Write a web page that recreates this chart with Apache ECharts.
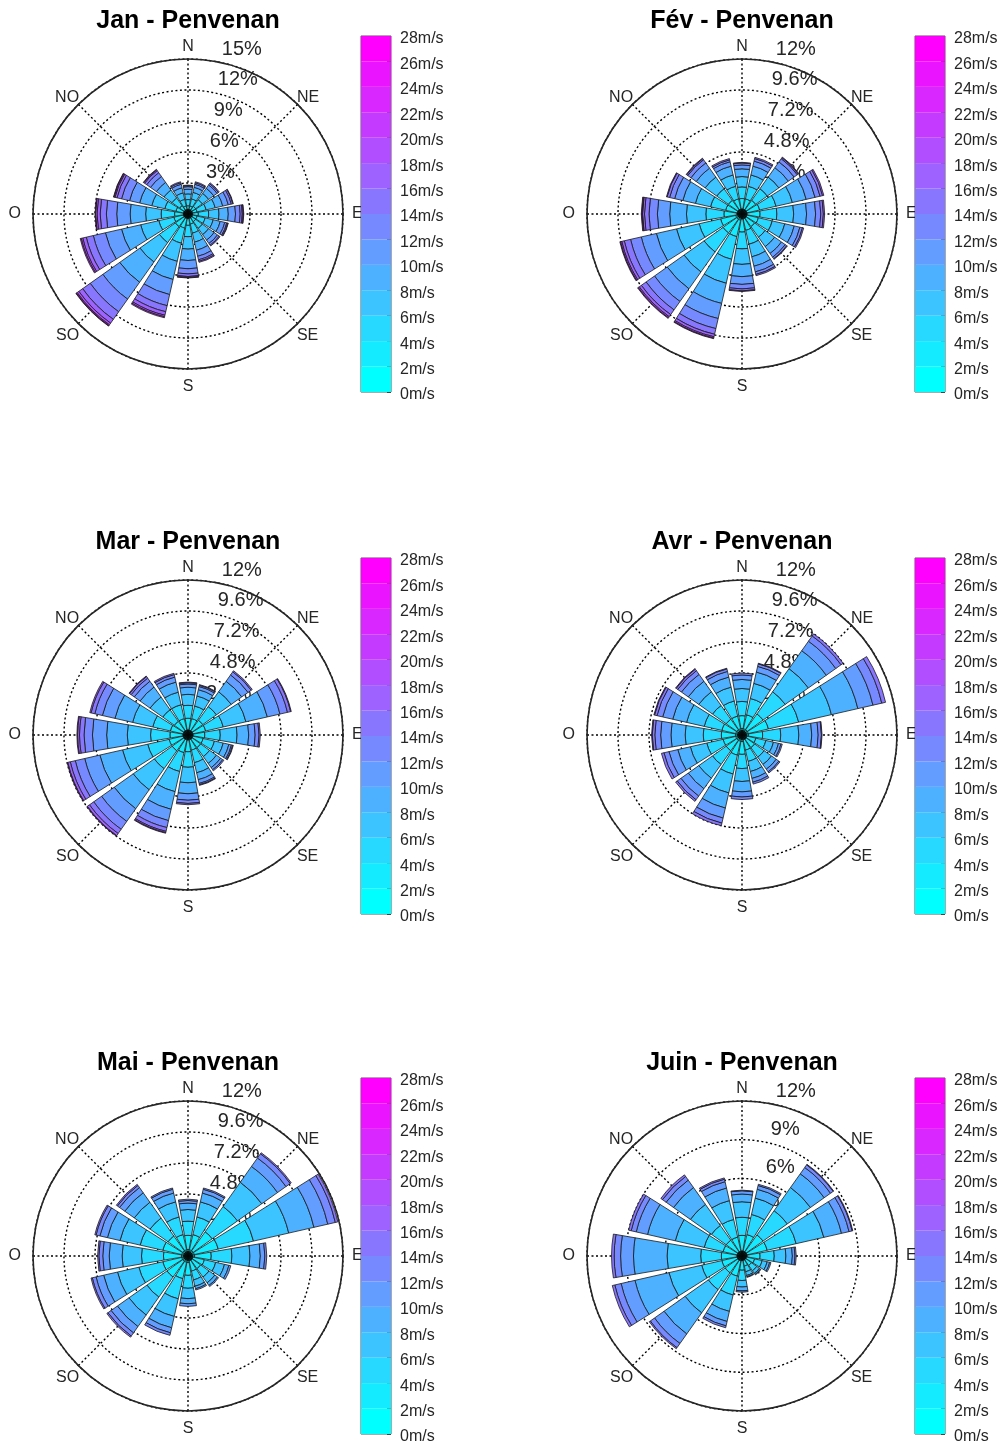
<!DOCTYPE html>
<html><head><meta charset="utf-8">
<script src="https://cdn.jsdelivr.net/npm/echarts@6/dist/echarts.min.js"></script>
<style>html,body{margin:0;padding:0;background:#fff}#c{width:1007px;height:1445px}</style>
</head><body><div id="c"></div>
<script>
// ---------- data ----------
const directions = ['N','NNE','NE','ENE','E','ESE','SE','SSE','S','SSO','SO','OSO','O','ONO','NO','NNO'];
const compassLabels = ['N','NE','E','SE','S','SO','O','NO'];
const speedEdges = [0,2,4,6,8,10,12,14,16,18,20,22,24,26,28];
const speedColors = ['#00ffff','#14ebff','#27d8ff','#3bc4ff','#4eb1ff','#629dff','#7689ff','#8976ff','#9d62ff','#b14eff','#c43bff','#d827ff','#eb14ff','#ff00ff'];
const titles = ['Jan - Penvenan','Fév - Penvenan','Mar - Penvenan','Avr - Penvenan','Mai - Penvenan','Juin - Penvenan'];
const ringMax = [15,12,12,12,12,12];
const ringStep = [3,2.4,2.4,2.4,2.4,3];

// frequency (%) per direction (N, NNE, ... NNO), split by speed bin of 2 m/s
const jan = [
 [0.3,0.5,0.6,0.55,0.45,0.25,0.1,0.05],
 [0.3,0.5,0.7,0.65,0.5,0.3,0.15,0.1],
 [0.3,0.6,0.8,0.75,0.6,0.4,0.15,0.1],
 [0.3,0.6,0.9,0.9,0.75,0.55,0.3,0.15,0.05],
 [0.3,0.7,1.0,1.0,0.9,0.7,0.45,0.2,0.1,0.05],
 [0.3,0.6,0.8,0.8,0.7,0.45,0.2,0.1,0.05],
 [0.3,0.6,0.8,0.75,0.65,0.4,0.2,0.1],
 [0.3,0.7,0.9,0.9,0.8,0.6,0.35,0.15,0.1],
 [0.3,0.8,1.1,1.2,1.1,0.8,0.5,0.25,0.1,0.05],
 [0.4,1.0,1.5,1.8,1.8,1.5,1.1,0.6,0.35,0.15,0.1],
 [0.4,1.1,1.9,2.3,2.4,2.0,1.5,0.9,0.45,0.2,0.1,0.05],
 [0.4,1.0,1.5,1.8,1.9,1.6,1.2,0.7,0.35,0.15,0.1],
 [0.4,0.9,1.3,1.5,1.5,1.3,1.0,0.6,0.3,0.15,0.05],
 [0.4,0.8,1.1,1.3,1.2,1.0,0.8,0.45,0.2,0.1,0.05],
 [0.3,0.7,0.9,0.95,0.9,0.7,0.45,0.25,0.1,0.05],
 [0.3,0.5,0.65,0.65,0.5,0.35,0.15,0.1]
];
const fev = [
 [0.4,0.8,0.9,0.8,0.6,0.3,0.15,0.05],
 [0.4,0.8,1.0,0.9,0.7,0.4,0.2,0.1],
 [0.4,0.9,1.1,1.1,0.9,0.55,0.3,0.1,0.05],
 [0.4,1.0,1.3,1.3,1.1,0.7,0.4,0.2,0.1],
 [0.4,1.0,1.3,1.3,1.0,0.7,0.4,0.2,0.1],
 [0.4,0.9,1.1,1.0,0.75,0.45,0.2,0.1],
 [0.4,0.8,1.0,0.9,0.65,0.35,0.15,0.05],
 [0.4,0.9,1.1,1.0,0.75,0.45,0.2,0.1],
 [0.4,1.0,1.3,1.2,0.95,0.6,0.35,0.15,0.05],
 [0.5,1.3,1.8,1.9,1.6,1.2,0.8,0.45,0.2,0.1,0.05],
 [0.5,1.3,1.8,1.9,1.6,1.2,0.8,0.45,0.2,0.1,0.05],
 [0.5,1.2,1.7,1.8,1.6,1.2,0.85,0.5,0.2,0.1,0.05],
 [0.4,1.0,1.4,1.5,1.3,0.95,0.65,0.35,0.15,0.05,0.05],
 [0.4,0.9,1.2,1.2,1.0,0.65,0.4,0.2,0.05],
 [0.4,0.9,1.1,1.1,0.85,0.5,0.3,0.1,0.05],
 [0.4,0.8,1.0,0.9,0.7,0.35,0.15,0.1]
];
const mar = [
 [0.4,0.9,1.0,0.85,0.55,0.25,0.1,0.05],
 [0.4,0.9,1.0,0.8,0.5,0.25,0.1,0.05],
 [0.4,1.0,1.3,1.4,1.0,0.6,0.3,0.1],
 [0.4,1.0,1.4,1.8,1.7,1.0,0.6,0.25,0.05],
 [0.4,0.9,1.2,1.3,0.9,0.5,0.3,0.1],
 [0.4,0.8,0.9,0.7,0.45,0.2,0.1,0.05],
 [0.4,0.8,0.85,0.65,0.4,0.2,0.1],
 [0.4,0.8,1.0,0.8,0.55,0.3,0.1,0.05],
 [0.4,0.9,1.2,1.2,0.85,0.5,0.25,0.1],
 [0.4,1.0,1.5,1.6,1.4,0.9,0.55,0.3,0.1,0.05],
 [0.4,1.1,1.7,2.0,1.8,1.2,0.75,0.4,0.2,0.05],
 [0.4,1.1,1.7,2.0,1.8,1.2,0.75,0.4,0.2,0.05],
 [0.4,1.0,1.5,1.8,1.6,1.1,0.65,0.35,0.15,0.05],
 [0.4,1.0,1.4,1.6,1.4,1.0,0.6,0.3,0.1],
 [0.4,0.9,1.1,1.2,0.95,0.55,0.3,0.15,0.05],
 [0.4,0.9,1.1,1.0,0.8,0.4,0.2,0.1]
];
const avr = [
 [0.5,1.0,1.1,1.0,0.7,0.35,0.15],
 [0.5,1.1,1.3,1.2,0.9,0.45,0.2,0.05],
 [0.5,1.5,2.1,2.2,1.7,0.9,0.5,0.2],
 [0.5,1.6,2.4,2.6,2.1,1.2,0.7,0.3],
 [0.5,1.1,1.4,1.4,1.0,0.5,0.25,0.05],
 [0.4,0.7,0.8,0.6,0.4,0.2,0.1],
 [0.4,0.8,0.9,0.7,0.45,0.25,0.1],
 [0.4,0.8,0.9,0.8,0.55,0.3,0.15],
 [0.5,1.0,1.1,1.0,0.8,0.4,0.2],
 [0.5,1.1,1.5,1.5,1.2,0.8,0.4,0.2],
 [0.5,1.0,1.3,1.3,1.0,0.7,0.35,0.15],
 [0.5,1.0,1.3,1.3,1.0,0.7,0.4,0.2],
 [0.5,1.1,1.4,1.4,1.1,0.8,0.45,0.2,0.05],
 [0.5,1.1,1.4,1.4,1.1,0.8,0.45,0.2,0.05],
 [0.5,1.0,1.3,1.3,1.0,0.65,0.35,0.15,0.05],
 [0.5,1.0,1.2,1.1,0.8,0.45,0.2,0.05]
];
const mai = [
 [0.5,1.1,1.1,0.9,0.5,0.2,0.1],
 [0.5,1.2,1.4,1.2,0.7,0.3,0.1],
 [0.5,1.8,2.4,2.3,1.5,0.8,0.4,0.1],
 [0.5,1.9,2.8,2.8,2.0,1.1,0.6,0.2],
 [0.5,1.3,1.6,1.4,0.8,0.35,0.15],
 [0.4,0.9,0.9,0.7,0.35,0.15],
 [0.4,0.8,0.8,0.55,0.25,0.1],
 [0.4,0.8,0.7,0.5,0.2,0.1],
 [0.5,1.0,1.0,0.8,0.4,0.2],
 [0.5,1.3,1.6,1.4,0.9,0.4,0.2],
 [0.5,1.5,1.9,1.7,1.1,0.6,0.3,0.1],
 [0.5,1.5,1.9,1.7,1.1,0.6,0.3,0.1],
 [0.5,1.4,1.7,1.5,1.0,0.5,0.3,0.1],
 [0.5,1.5,1.8,1.6,1.0,0.6,0.3,0.1],
 [0.5,1.4,1.7,1.5,0.9,0.5,0.2,0.1],
 [0.5,1.2,1.4,1.2,0.7,0.3,0.1]
];
const juin = [
 [0.4,1.2,1.4,1.2,0.6,0.25,0.05],
 [0.4,1.3,1.6,1.3,0.7,0.3,0.1],
 [0.4,1.6,2.3,2.2,1.3,0.6,0.25,0.05],
 [0.4,1.6,2.3,2.2,1.4,0.6,0.25,0.05],
 [0.4,1.0,1.1,0.9,0.5,0.2,0.1],
 [0.3,0.7,0.6,0.4,0.2,0.1],
 [0.3,0.6,0.5,0.25,0.1,0.05],
 [0.3,0.5,0.45,0.3,0.1,0.05],
 [0.3,0.8,0.8,0.5,0.3,0.1],
 [0.4,1.2,1.5,1.3,0.8,0.35,0.15],
 [0.4,1.2,1.6,2.2,2.0,0.9,0.4,0.1],
 [0.4,1.2,1.6,2.6,2.7,1.1,0.5,0.2],
 [0.4,1.2,1.6,2.6,2.6,1.0,0.5,0.2],
 [0.4,1.1,1.5,2.3,2.2,0.9,0.4,0.2],
 [0.4,1.1,1.4,2.0,1.6,0.7,0.35,0.15],
 [0.4,1.1,1.4,1.5,1.0,0.5,0.2,0.1]
];
const months = [jan, fev, mar, avr, mai, juin];

// ---------- layout ----------
const FONT = 'Liberation Sans, Arial, Helvetica, sans-serif';
const R = 155;
const panels = [
  {cx:188, cy:214, ty:9,    cbx:361, cby:36},
  {cx:742, cy:214, ty:9,    cbx:915, cby:36},
  {cx:188, cy:735, ty:530,  cbx:361, cby:558},
  {cx:742, cy:735, ty:530,  cbx:915, cby:558},
  {cx:188, cy:1256, ty:1051, cbx:361, cby:1078},
  {cx:742, cy:1256, ty:1051, cbx:915, cby:1078}
];
const dotted = {type:[2,2.5], color:'#000', width:1.4};
const lbl = {fontSize:16, color:'#262626', fontFamily:FONT};
const compassRich = {
  n:Object.assign({padding:[0,0,5,0]}, lbl),
  s:Object.assign({padding:[11,0,0,0]}, lbl),
  o:Object.assign({padding:[0,13,0,0]}, lbl),
  e:Object.assign({padding:[0,0,0,10]}, lbl),
  b:Object.assign({padding:[5,0,0,0]}, lbl),
  d:Object.assign({}, lbl)
};
const compassStyle = {N:'n', S:'s', O:'o', E:'e', SO:'b', SE:'b'};
const option = {animation:false, backgroundColor:'#fff', title:[], polar:[], angleAxis:[], radiusAxis:[], grid:[], xAxis:[], yAxis:[], series:[]};

months.forEach((m, p) => {
  const L = panels[p];
  option.title.push({text:titles[p], left:L.cx, top:L.ty, textAlign:'center', padding:0,
    textStyle:{fontSize:25, fontWeight:'bold', color:'#000', fontFamily:FONT}});
  const base = option.polar.length;
  for (let k = 0; k < 3; k++) option.polar.push({center:[L.cx, L.cy], radius:[0, R]});
  const rmax = ringMax[p], rstep = ringStep[p];
  // polar 0: bars
  option.angleAxis.push({polarIndex:base, type:'category', data:directions, startAngle:101.25, clockwise:true,
    axisLine:{show:false}, axisTick:{show:false}, axisLabel:{show:false}, splitLine:{show:false}});
  option.radiusAxis.push({polarIndex:base, type:'value', min:0, max:rmax, interval:rstep,
    axisLine:{show:false}, axisTick:{show:false}, axisLabel:{show:false}, splitLine:{show:false}});
  // polar 1: grid & compass labels
  option.angleAxis.push({polarIndex:base+1, type:'value', min:0, max:360, interval:45, startAngle:90, clockwise:true,
    axisLine:{show:true, lineStyle:{color:'#262626', width:1.6}}, axisTick:{show:false},
    axisLabel:{show:true, margin:-1, fontSize:16, color:'#262626', fontFamily:FONT, rich:compassRich,
      formatter:v => { const t = compassLabels[Math.round(v / 45) % compassLabels.length]; return '{' + (compassStyle[t] || 'd') + '|' + t + '}'; }},
    splitLine:{show:true, lineStyle:dotted}});
  option.radiusAxis.push({polarIndex:base+1, type:'value', min:0, max:rmax, interval:rstep,
    axisLine:{show:false}, axisTick:{show:false}, axisLabel:{show:false}, splitLine:{show:true, lineStyle:dotted}});
  // polar 2: ring labels
  option.angleAxis.push({polarIndex:base+2, type:'value', min:0, max:360, startAngle:82.6, show:false});
  option.radiusAxis.push({polarIndex:base+2, type:'value', min:0, max:rmax, interval:rstep,
    axisLine:{show:false}, axisTick:{show:false}, splitLine:{show:false},
    axisLabel:{show:true, margin:-14, align:'left', verticalAlign:'bottom', padding:[0,0,3,0], fontSize:20, color:'#262626', fontFamily:FONT,
      formatter:v => v === 0 ? '' : (parseFloat(v.toFixed(1)) + '%')}});
  // stacked bars, one series per speed bin
  for (let b = 0; b < speedColors.length; b++) {
    option.series.push({type:'bar', coordinateSystem:'polar', polarIndex:base, stack:'rose'+p, barCategoryGap:'14%', silent:true,
      data:m.map(d => (d[b] != null ? d[b] : '-')),
      itemStyle:{color:speedColors[b], borderColor:'#1a1a1a', borderWidth:0.8}});
  }
  option.series.push({type:'scatter', coordinateSystem:'polar', polarIndex:base+1, data:[[0,0]], symbolSize:10, silent:true,
    itemStyle:{color:'#000'}, z:5});
  // colour bar
  const gi = option.grid.length;
  option.grid.push({left:L.cbx, top:L.cby, width:30, height:356, show:true, borderColor:'#555', borderWidth:1});
  option.xAxis.push({gridIndex:gi, type:'category', data:['v'], show:false});
  option.yAxis.push({gridIndex:gi, type:'value', min:speedEdges[0], max:speedEdges[speedEdges.length-1], interval:2, position:'right',
    axisLine:{show:false}, axisTick:{show:true, inside:true, length:4, lineStyle:{color:'#444'}}, splitLine:{show:false},
    axisLabel:{formatter:'{value}m/s', fontSize:16, color:'#262626', margin:9, verticalAlign:'top', lineHeight:6, fontFamily:FONT}});
  for (let b = 0; b < speedColors.length; b++) {
    option.series.push({type:'bar', xAxisIndex:gi, yAxisIndex:gi, stack:'cb'+p, barWidth:'100%', silent:true,
      data:[speedEdges[b+1]-speedEdges[b]], itemStyle:{color:speedColors[b]}});
  }
});
const chart = echarts.init(document.getElementById('c'), null, {renderer:'canvas'});
chart.setOption(option);
</script></body></html>
